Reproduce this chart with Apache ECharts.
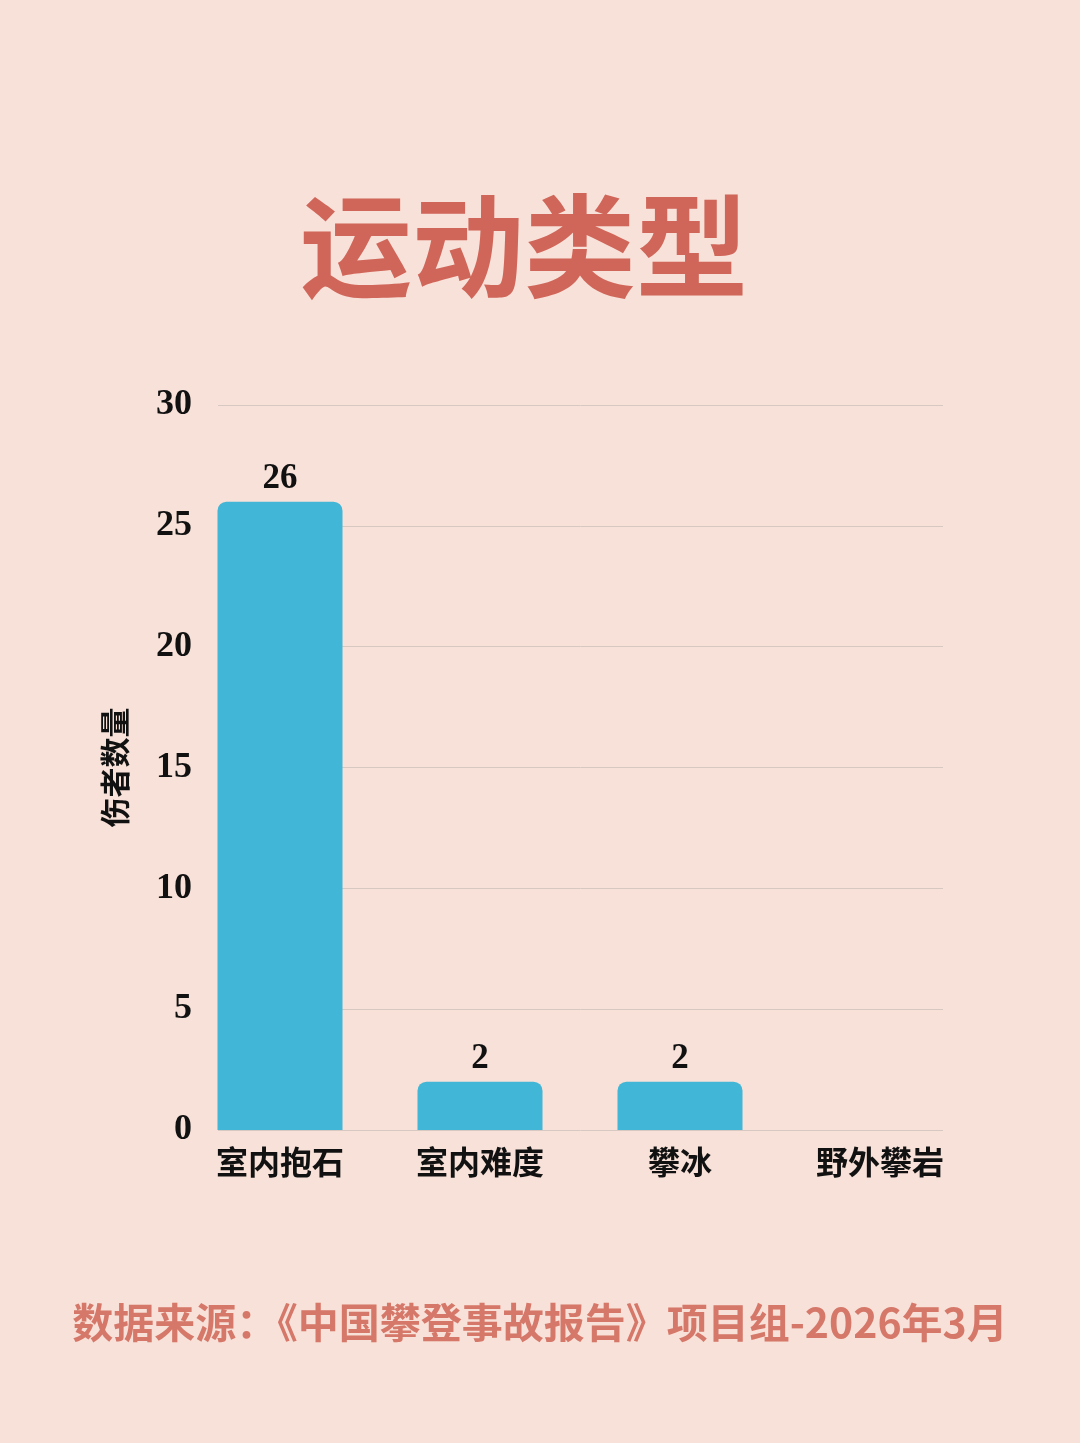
<!DOCTYPE html>
<html>
<head>
<meta charset="utf-8">
<script src="https://cdn.jsdelivr.net/npm/echarts@6/dist/echarts.min.js"></script>
<style>
html, body { margin: 0; padding: 0; background: #F8E1D8; }
#main { width: 1080px; height: 1443px; }
</style>
</head>
<body>
<div id="main"></div>
<script>
// 数据
var categories = ['室内抱石', '室内难度', '攀冰', '野外攀岩'];
var injured = [26, 2, 2, 0];
var yMin = 0, yMax = 30, yStep = 5;

var serif = "'Liberation Serif', 'Noto Sans CJK SC', serif";

var myChart = echarts.init(document.getElementById('main'));

myChart.setOption({
    backgroundColor: '#F8E1D8',
    title: {
        text: '运动类型',
        left: 295,
        top: 185,
        textStyle: {
            fontFamily: "'Noto Sans CJK SC'",
            fontWeight: 'bold',
            fontSize: 112,
            color: '#D0665A'
        }
    },
    graphic: [{
        type: 'text',
        left: 'center',
        top: 1302,
        style: {
            text: '数据来源：《中国攀登事故报告》项目组-2026年3月',
            font: "bold 41px 'Noto Sans CJK SC'",
            fill: '#D5786A'
        }
    }],
    //两个grid: 一个画刻度线, 一个放柱子
    grid: [
        { left: 218, right: 137, top: 405, bottom: 313 },
        { left: 180, right: 100, top: 405, bottom: 313 }
    ],
    xAxis: [
        {
            type: 'category',
            gridIndex: 0,
            data: categories,
            show: false
        },
        {
            type: 'category',
            gridIndex: 1,
            data: categories,
            axisLine: { show: false },
            axisTick: { show: false },
            axisLabel: {
                interval: 0,
                margin: 20,
                fontFamily: serif,
                fontWeight: 'bold',
                fontSize: 32,
                color: '#111'
            }
        }
    ],
    yAxis: [
        {
            type: 'value',
            gridIndex: 0,
            min: yMin,
            max: yMax,
            interval: yStep,
            name: '伤者数量',
            nameLocation: 'middle',
            nameGap: 85,
            nameTextStyle: {
                fontFamily: serif,
                fontWeight: 'bold',
                fontSize: 30,
                color: '#111'
            },
            axisLine: { show: false },
            axisTick: { show: false },
            axisLabel: {
                margin: 26,
                fontFamily: serif,
                fontWeight: 'bold',
                fontSize: 36,
                color: '#111'
            },
            splitLine: {
                lineStyle: { color: '#D8C8C2', width: 1 }
            }
        },
        {
            type: 'value',
            gridIndex: 1,
            min: yMin,
            max: yMax,
            interval: yStep,
            show: false,
            splitLine: { show: false }
        }
    ],
    series: [
        {
            name: '伤者数量',
            type: 'bar',
            xAxisIndex: 1,
            yAxisIndex: 1,
            data: injured,
            barWidth: 125,
            itemStyle: {
                color: '#41B6D6',
                borderRadius: [9, 9, 0, 0]
            },
            label: {
                show: true,
                position: 'top',
                distance: 5,
                fontFamily: serif,
                fontWeight: 'bold',
                fontSize: 35,
                color: '#111',
                formatter: function (p) {
                    return p.value > 0 ? p.value : '';
                }
            }
        }
    ]
});
</script>
</body>
</html>
